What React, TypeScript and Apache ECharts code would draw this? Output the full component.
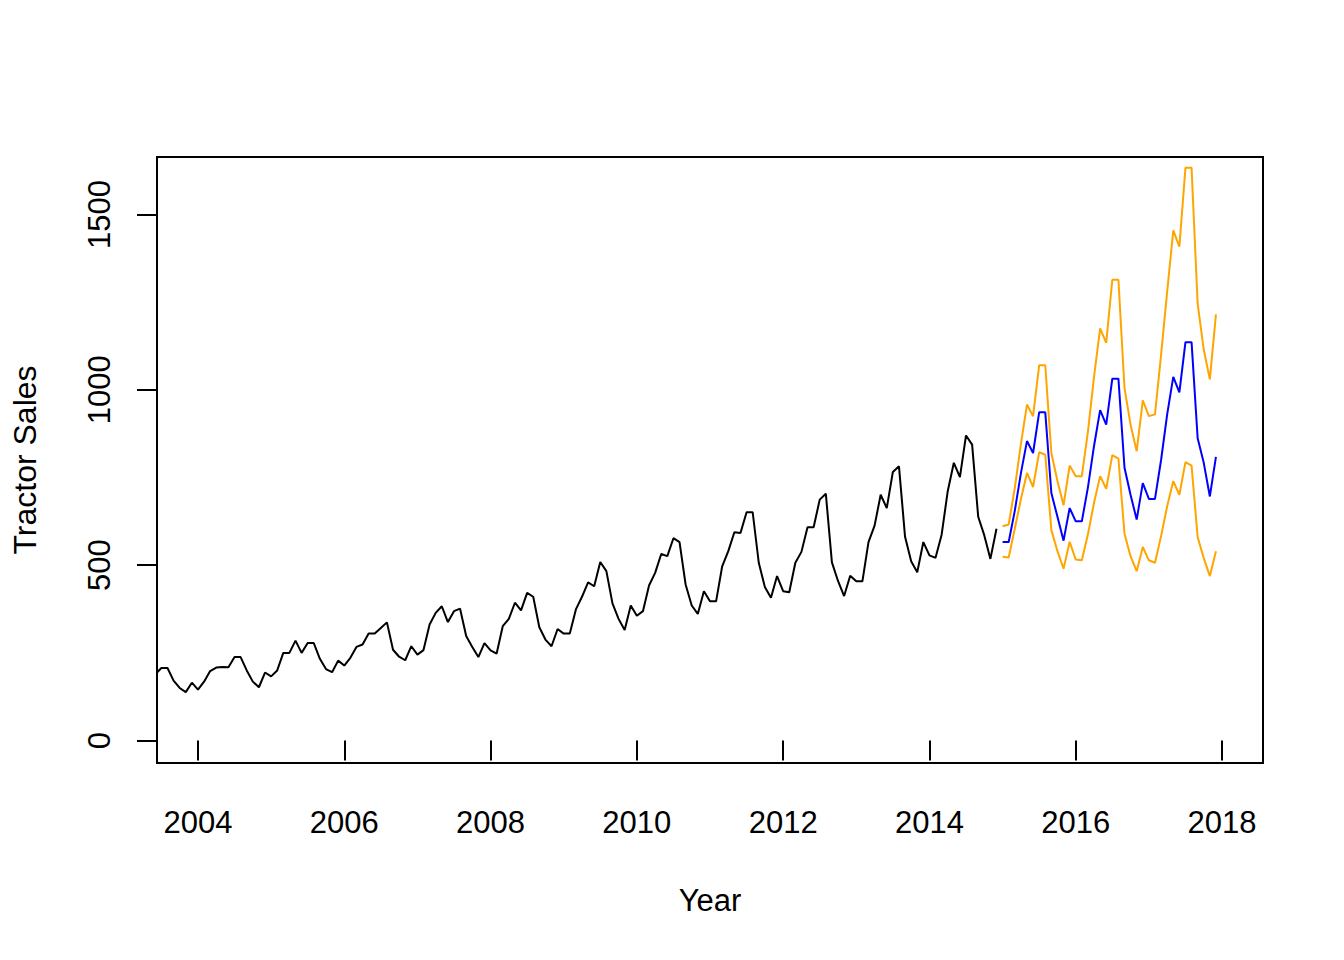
import React, { useEffect, useRef } from "react";
import * as echarts from "echarts";

// Monthly tractor sales, starting June 2003
const historyStartYear = 2003;
const historyStartMonth = 6;
const history = [
  189, 207, 207, 171, 150, 138, 165,
  145, 168, 198, 208, 210, 209, 238, 238, 200, 168, 152, 194,
  183, 200, 250, 250, 285, 250, 278, 278, 233, 204, 195, 228,
  214, 236, 267, 274, 305, 305, 321, 337, 259, 239, 229, 269,
  245, 258, 331, 364, 383, 338, 369, 376, 298, 267, 238, 278,
  257, 248, 326, 347, 393, 371, 421, 410, 323, 288, 269, 318,
  305, 305, 374, 410, 451, 440, 509, 483, 391, 347, 315, 385,
  356, 369, 442, 478, 532, 526, 577, 566, 445, 385, 361, 426,
  397, 397, 497, 540, 594, 592, 651, 651, 507, 438, 407, 469,
  426, 423, 507, 538, 608, 608, 687, 704, 508, 455, 412, 470,
  454, 454, 566, 613, 701, 663, 766, 782, 581, 511, 480, 566,
  528, 521, 587, 711, 792, 751, 870, 844, 638, 585, 518, 604,
];

// Forecast Jan 2015 - Dec 2017
const forecastStartYear = 2015;
const forecastMean = [
  566, 566, 655, 762, 854, 820, 936, 936, 706, 638, 570, 663,
  625, 625, 722, 840, 942, 901, 1032, 1032, 778, 700, 630, 734,
  689, 689, 800, 930, 1037, 993, 1136, 1136, 862, 792, 696, 809,
];
const forecastLower = [
  524, 522, 604, 688, 763, 723, 822, 815, 600, 540, 490, 567,
  516, 514, 588, 678, 754, 718, 814, 804, 590, 525, 483, 552,
  514, 507, 583, 668, 740, 701, 794, 784, 580, 520, 469, 540,
];
const forecastUpper = [
  611, 616, 720, 845, 958, 925, 1070, 1070, 820, 740, 671, 784,
  754, 754, 881, 1037, 1175, 1134, 1314, 1314, 1005, 900, 825, 970,
  925, 930, 1100, 1280, 1455, 1408, 1633, 1633, 1245, 1115, 1030, 1215,
];

const xTicks = [2004, 2006, 2008, 2010, 2012, 2014, 2016, 2018];
const yTicks = [0, 500, 1000, 1500];
const xLimits = [2004, 2018];
const yLimits = [0, 1600];

const FONT = "'Liberation Sans', Arial, Helvetica, sans-serif";

function toPairs(startYear: number, startMonth: number, values: number[]) {
  return values.map((v, i) => [startYear + (startMonth - 1 + i) / 12, v]);
}

export default function App() {
  const ref = useRef<HTMLDivElement>(null);

  useEffect(() => {
    if (!ref.current) return;
    const chart = echarts.init(ref.current, null, { renderer: "svg" });
    const xPad = (xLimits[1] - xLimits[0]) * 0.04;
    const yPad = (yLimits[1] - yLimits[0]) * 0.04;
    const lineStyleBase = { width: 2 };
    chart.setOption({
      animation: false,
      backgroundColor: "#ffffff",
      grid: {
        left: 157,
        top: 157,
        right: 81,
        bottom: 197,
        show: true,
        borderColor: "#000",
        borderWidth: 2,
        backgroundColor: "transparent",
        containLabel: false,
        outerBoundsMode: "none",
      },
      xAxis: {
        type: "value",
        min: xLimits[0] - xPad,
        max: xLimits[1] + xPad,
        axisLine: { show: false },
        splitLine: { show: false },
        axisTick: {
          show: true,
          inside: false,
          length: 20,
          customValues: xTicks,
          lineStyle: { color: "#000", width: 2 },
        },
        axisLabel: {
          customValues: xTicks,
          color: "#000",
          fontFamily: FONT,
          fontSize: 31,
          margin: 44,
          showMinLabel: true,
          showMaxLabel: true,
          formatter: (v: number) => String(v),
        },
      },
      yAxis: {
        type: "value",
        min: yLimits[0] - yPad,
        max: yLimits[1] + yPad,
        axisLine: { show: false },
        splitLine: { show: false },
        axisTick: {
          show: true,
          length: 20,
          customValues: yTicks,
          lineStyle: { color: "#000", width: 2 },
        },
        axisLabel: {
          customValues: yTicks,
          color: "#000",
          fontFamily: FONT,
          fontSize: 31,
          rotate: 90,
          margin: 42,
          formatter: (v: number) => String(v),
        },
      },
      graphic: [
        {
          type: "text",
          x: 710,
          y: 900,
          style: {
            text: "Year",
            fill: "#000",
            font: `31px ${FONT}`,
            align: "center",
            verticalAlign: "middle",
          },
        },
        {
          type: "text",
          x: 25,
          y: 460,
          rotation: Math.PI / 2,
          style: {
            text: "Tractor Sales",
            fill: "#000",
            font: `32px ${FONT}`,
            align: "center",
            verticalAlign: "middle",
          },
        },
      ],
      series: [
        {
          type: "line",
          data: toPairs(historyStartYear, historyStartMonth, history),
          showSymbol: false,
          clip: true,
          lineStyle: { ...lineStyleBase, color: "#000" },
        },
        {
          type: "line",
          data: toPairs(forecastStartYear, 1, forecastUpper),
          showSymbol: false,
          clip: true,
          lineStyle: { ...lineStyleBase, color: "#FFA500" },
        },
        {
          type: "line",
          data: toPairs(forecastStartYear, 1, forecastLower),
          showSymbol: false,
          clip: true,
          lineStyle: { ...lineStyleBase, color: "#FFA500" },
        },
        {
          type: "line",
          data: toPairs(forecastStartYear, 1, forecastMean),
          showSymbol: false,
          clip: true,
          lineStyle: { ...lineStyleBase, color: "#0000FF" },
        },
      ],
    });
    return () => chart.dispose();
  }, []);

  return (
    <div
      ref={ref}
      style={{ position: "fixed", left: 0, top: 0, width: 1344, height: 960, background: "#fff" }}
    />
  );
}
